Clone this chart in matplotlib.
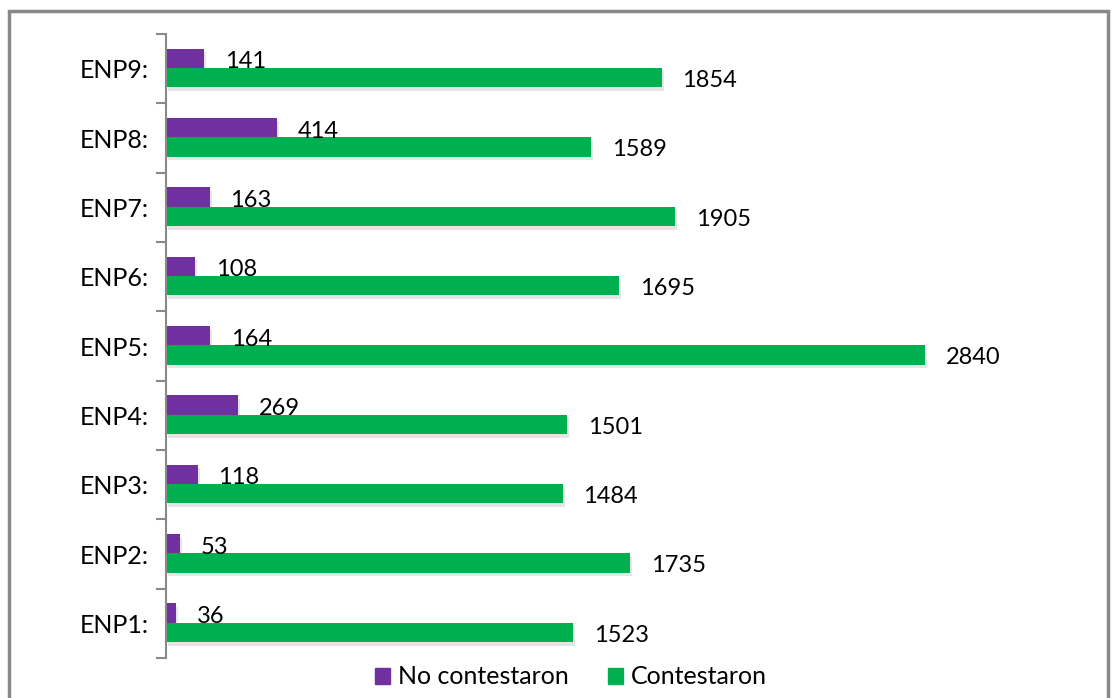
import numpy as np
import matplotlib.pyplot as plt
import matplotlib.patheffects as pe
from matplotlib.patches import Rectangle, Patch

# Data
categories = ["ENP1:", "ENP2:", "ENP3:", "ENP4:", "ENP5:", "ENP6:", "ENP7:", "ENP8:", "ENP9:"]
no_contestaron = [36, 53, 118, 269, 164, 108, 163, 414, 141]
contestaron = [1523, 1735, 1484, 1501, 2840, 1695, 1905, 1589, 1854]

purple = "#7030A0"
green = "#00B050"
gray = "#898989"

plt.rcParams['font.family'] = ['Lato', 'DejaVu Sans']

fig = plt.figure(figsize=(11.17, 6.98), dpi=100)

# Outer frame of the chart
fig.patches.append(Rectangle((9 / 1117, -0.05), 1099 / 1117, 1.05 - 11 / 698,
                             transform=fig.transFigure, fill=False,
                             edgecolor=gray, linewidth=2.5))

ax = fig.add_axes([166 / 1117, 40 / 698, 900 / 1117, 624 / 698])

y = np.arange(len(categories))
h = 0.28
shadow = [pe.SimplePatchShadow(offset=(1.5, -2.5), shadow_rgbFace='gray', alpha=0.2), pe.Normal()]

b1 = ax.barh(y + h / 2 + 0.01, no_contestaron, height=h, color=purple, label="No contestaron")
b2 = ax.barh(y - h / 2 + 0.01, contestaron, height=h, color=green, label="Contestaron")
for bar in list(b1) + list(b2):
    bar.set_path_effects(shadow)

for yi, v in zip(y, no_contestaron):
    ax.annotate(str(v), (v, yi + h / 2 - 0.04), xytext=(15, 0), textcoords="offset points",
                va="center", ha="left", fontsize=17)
for yi, v in zip(y, contestaron):
    ax.annotate(str(v), (v, yi - h / 2 - 0.03), xytext=(15, 0), textcoords="offset points",
                va="center", ha="left", fontsize=17)

ax.set_xlim(0, 900 / 0.2673)
ax.set_ylim(-0.5, len(categories) - 0.5)

for s in ["top", "right", "bottom"]:
    ax.spines[s].set_visible(False)
ax.spines["left"].set_color(gray)
ax.spines["left"].set_linewidth(1.5)
ax.set_xticks([])

# category labels in the middle, tick marks on boundaries
ax.set_yticks(np.arange(-0.5, len(categories), 1.0))
ax.set_yticklabels([])
ax.tick_params(axis="y", length=7, width=1.5, color=gray)
ax.set_yticks(y, minor=True)
ax.set_yticklabels(categories, minor=True, fontsize=18)
ax.tick_params(axis="y", which="minor", length=0, pad=12)

handles = [Patch(color=purple), Patch(color=green)]
fig.legend(handles, ["No contestaron", "Contestaron"], loc="center", bbox_to_anchor=(571 / 1117, 21 / 698),
           ncol=2, frameon=False, fontsize=18, handlelength=0.6, handleheight=0.6,
           handletextpad=0.3, columnspacing=1.6)

fig.savefig("out.png", dpi=100)
